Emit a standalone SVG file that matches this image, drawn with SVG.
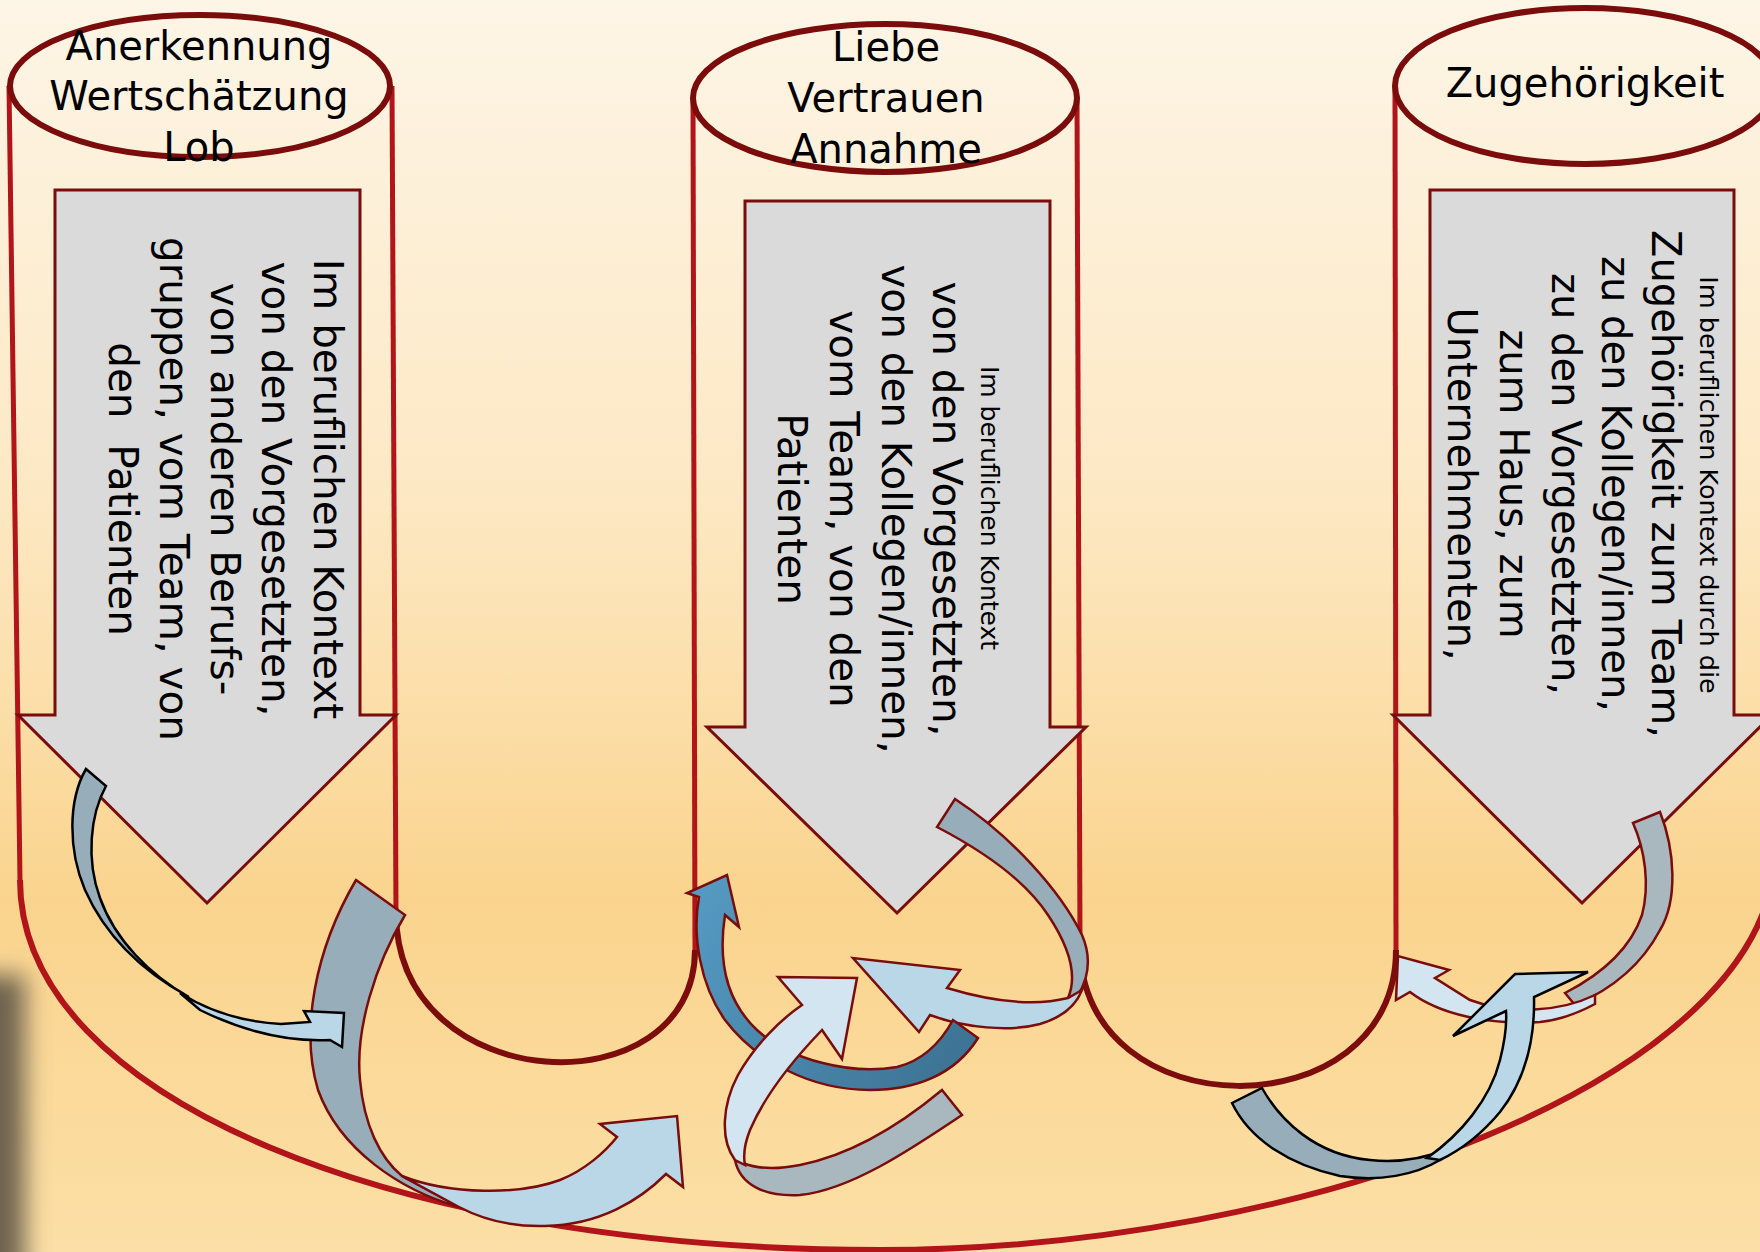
<svg xmlns="http://www.w3.org/2000/svg" width="1760" height="1252" viewBox="0 0 1760 1252">
<defs>
<linearGradient id="bg" x1="0" y1="0" x2="0" y2="1">
<stop offset="0" stop-color="#fdf5e6"/>
<stop offset="0.4" stop-color="#fde8c3"/>
<stop offset="0.72" stop-color="#fad48e"/>
<stop offset="1" stop-color="#fcdfa6"/>
</linearGradient>
<linearGradient id="cgrad" gradientUnits="userSpaceOnUse" x1="700" y1="900" x2="960" y2="1070">
<stop offset="0" stop-color="#5499c1"/>
<stop offset="1" stop-color="#3d7393"/>
</linearGradient>
<filter id="blur" x="-1" y="-1" width="3" height="3">
<feGaussianBlur stdDeviation="12"/>
</filter>
<style>
.side{fill:none;stroke:#b11419;stroke-width:5}
.udark{fill:none;stroke:#7d0d0d;stroke-width:6}
.outer{fill:none;stroke:#b11419;stroke-width:6}
.top{fill:none;stroke:#7b0c0c;stroke-width:6}
.garrow{fill:#dadada;stroke:#7b0c0c;stroke-width:3}
.title{font-family:"DejaVu Sans",sans-serif;font-size:40px;fill:#000;text-anchor:middle}
.body{font-family:"DejaVu Sans",sans-serif;font-size:40.5px;fill:#000;text-anchor:middle;white-space:pre}
.small{font-family:"DejaVu Sans",sans-serif;font-size:25px;fill:#000;text-anchor:middle}
.rs{stroke:#7b0c0c;stroke-width:2.5;stroke-linejoin:miter}
.ks{stroke:#000;stroke-width:2.5;stroke-linejoin:miter}
.back1{fill:#97adb9}
.back2{fill:#a9b7bf}
.front1{fill:#bad7e7}
.front2{fill:#d3e5f1}
</style>
</defs>
<rect width="1760" height="1252" fill="url(#bg)"/>
<rect x="-60" y="975" width="85" height="420" fill="#6e6350" filter="url(#blur)"/>

<g id="outline">
<path class="side" d="M 9,86 L 20,880"/>
<path class="outer" d="M 20,880 C 20,1100 400,1250 880,1250 C 1300,1250 1775,1080 1775,850 L 1775,86"/>
<path class="side" d="M 392,86 L 396,912"/>
<path class="side" d="M 693,98 L 695,950"/>
<path class="side" d="M 1077,98 L 1080,945"/>
<path class="side" d="M 1395,86 L 1396,950"/>
<path class="udark" d="M 396,912 C 396,1100 695,1110 695,950"/>
<path class="udark" d="M 1080,945 C 1080,1132 1396,1132 1396,950"/>
</g>

<g id="node-anerkennung">
<path class="garrow" d="M 55,190 L 360,190 L 360,715 L 396,715 L 207,903 L 18,715 L 55,715 Z"/>
<text class="body" transform="translate(314,489) rotate(90)">Im beruflichen Kontext</text>
<text class="body" transform="translate(262,489) rotate(90)">von den Vorgesetzten,</text>
<text class="body" transform="translate(211,489) rotate(90)">von anderen Berufs-</text>
<text class="body" transform="translate(160,489) rotate(90)">gruppen, vom Team, von</text>
<text class="body" transform="translate(109,489) rotate(90)" xml:space="preserve">den  Patienten</text>
<ellipse class="top" cx="200" cy="86" rx="190" ry="71"/>
<text class="title" x="199" y="60">Anerkennung</text>
<text class="title" x="199" y="110">Wertschätzung</text>
<text class="title" x="199" y="161">Lob</text>
</g>

<g id="node-liebe">
<path class="garrow" d="M 745,201 L 1050,201 L 1050,727 L 1086,727 L 897,913 L 707,727 L 745,727 Z"/>
<text class="small" transform="translate(981,508) rotate(90)">Im beruflichen Kontext</text>
<text class="body" transform="translate(933,509) rotate(90)">von den Vorgesetzten,</text>
<text class="body" transform="translate(882,509) rotate(90)">von den Kollegen/innen,</text>
<text class="body" transform="translate(830,509) rotate(90)">vom Team, von den</text>
<text class="body" transform="translate(778,509) rotate(90)">Patienten</text>
<ellipse class="top" cx="885" cy="98" rx="192" ry="74"/>
<text class="title" x="886" y="61">Liebe</text>
<text class="title" x="886" y="112">Vertrauen</text>
<text class="title" x="886" y="163">Annahme</text>
</g>

<g id="node-zugehoerigkeit">
<path class="garrow" d="M 1430,190 L 1734,190 L 1734,715 L 1772,715 L 1582,903 L 1393,715 L 1430,715 Z"/>
<text class="small" style="font-size:25.5px" transform="translate(1700,485) rotate(90)">Im beruflichen Kontext durch die</text>
<text class="body" style="font-size:40px" transform="translate(1652,484) rotate(90)">Zugehörigkeit zum Team,</text>
<text class="body" style="font-size:40px" transform="translate(1602,484) rotate(90)">zu den Kollegen/innen,</text>
<text class="body" style="font-size:40px" transform="translate(1552,484) rotate(90)">zu den Vorgesetzten,</text>
<text class="body" style="font-size:40px" transform="translate(1500,484) rotate(90)">zum Haus, zum</text>
<text class="body" style="font-size:40px" transform="translate(1448,484) rotate(90)">Unternehmenten,</text>
<ellipse class="top" cx="1585" cy="86" rx="190" ry="78"/>
<text class="title" x="1585" y="97">Zugehörigkeit</text>
</g>

<g id="connectors">
<g id="arrow-b">
<path class="back1 rs" d="M 356,880 L 405,915 C 375,965 355,1030 360,1080 C 364,1125 380,1158 402,1176 L 459,1207 C 400,1190 340,1150 318,1090 C 300,1030 315,950 356,880 Z"/>
<path class="front1 rs" d="M 402,1176 C 450,1195 520,1195 560,1180 C 585,1170 605,1152 617,1137 L 600,1124 L 677,1116 L 683,1187 L 666,1174 C 640,1200 600,1225 545,1226 C 510,1227 480,1218 459,1207 Z"/>
</g>
<g id="arrow-a">
<path class="back1 ks" d="M 86,769 L 106,786 C 90,815 86,860 100,898 C 115,940 150,975 189,997 C 140,970 105,935 85,890 C 68,850 68,800 86,769 Z"/>
<path class="front1 ks" d="M 180,993 C 210,1012 245,1022 281,1024 L 310,1022 L 304,1011 L 344,1013 L 342,1047 L 330,1040 C 290,1042 245,1032 200,1010 Z"/>
</g>
<g id="arrow-d">
<path class="back1 rs" d="M 955,799 C 1010,835 1060,890 1082,935 C 1095,965 1085,995 1063,1010 L 1068,998 C 1078,975 1068,945 1048,915 C 1025,880 985,852 937,827 Z"/>
<path class="front1 rs" d="M 1068,998 C 1040,1005 1000,1004 947,988 L 960,970 L 853,958 L 919,1032 L 930,1015 C 965,1028 1010,1032 1040,1024 C 1060,1018 1075,1008 1082,990 Z"/>
</g>
<g id="arrow-c">
<path class="rs" fill="url(#cgrad)" d="M 727,875 L 739,927 L 725,915 C 718,960 725,1000 757,1030 C 790,1060 850,1075 897,1067 C 925,1060 942,1040 953,1020 L 978,1038 C 955,1075 915,1090 870,1090 C 810,1090 755,1060 725,1020 C 700,985 692,935 699,897 L 687,893 Z"/>
</g>
<g id="arrow-e">
<path class="back2 rs" d="M 735,1160 C 740,1185 765,1197 800,1195 C 850,1190 910,1150 962,1115 L 942,1090 C 900,1125 850,1155 800,1165 C 775,1170 755,1168 743,1163 Z"/>
<path class="front2 rs" d="M 778,977 L 857,978 L 842,1059 L 822,1030 C 795,1058 765,1095 750,1130 C 744,1145 743,1155 745,1165 L 735,1160 C 720,1140 722,1105 738,1075 C 755,1045 780,1020 802,1005 Z"/>
</g>
<g id="arrow-g">
<path class="back2 rs" d="M 1633,823 L 1660,812 C 1675,850 1678,900 1660,930 C 1640,968 1610,990 1575,1005 L 1565,993 C 1600,975 1630,950 1642,915 C 1650,885 1645,850 1633,823 Z"/>
<path class="front2 rs" d="M 1595,995 C 1560,1012 1510,1015 1470,1000 L 1435,978 L 1449,970 L 1398,956 L 1396,1000 L 1410,992 C 1440,1015 1490,1025 1540,1022 C 1560,1020 1580,1012 1595,1004 Z"/>
</g>
<g id="arrow-f">
<path class="back1 ks" d="M 1232,1103 L 1262,1088 C 1280,1120 1315,1155 1370,1160 C 1400,1163 1425,1158 1445,1150 L 1440,1160 C 1415,1175 1380,1182 1340,1176 C 1290,1165 1250,1140 1232,1103 Z"/>
<path class="front1 ks" d="M 1427,1158 C 1460,1135 1490,1100 1500,1060 C 1505,1040 1507,1025 1506,1011 L 1453,1036 L 1515,974 L 1588,972 L 1534,997 C 1535,1040 1525,1080 1500,1112 C 1485,1130 1465,1148 1440,1160 Z"/>
</g>
</g>
</svg>
